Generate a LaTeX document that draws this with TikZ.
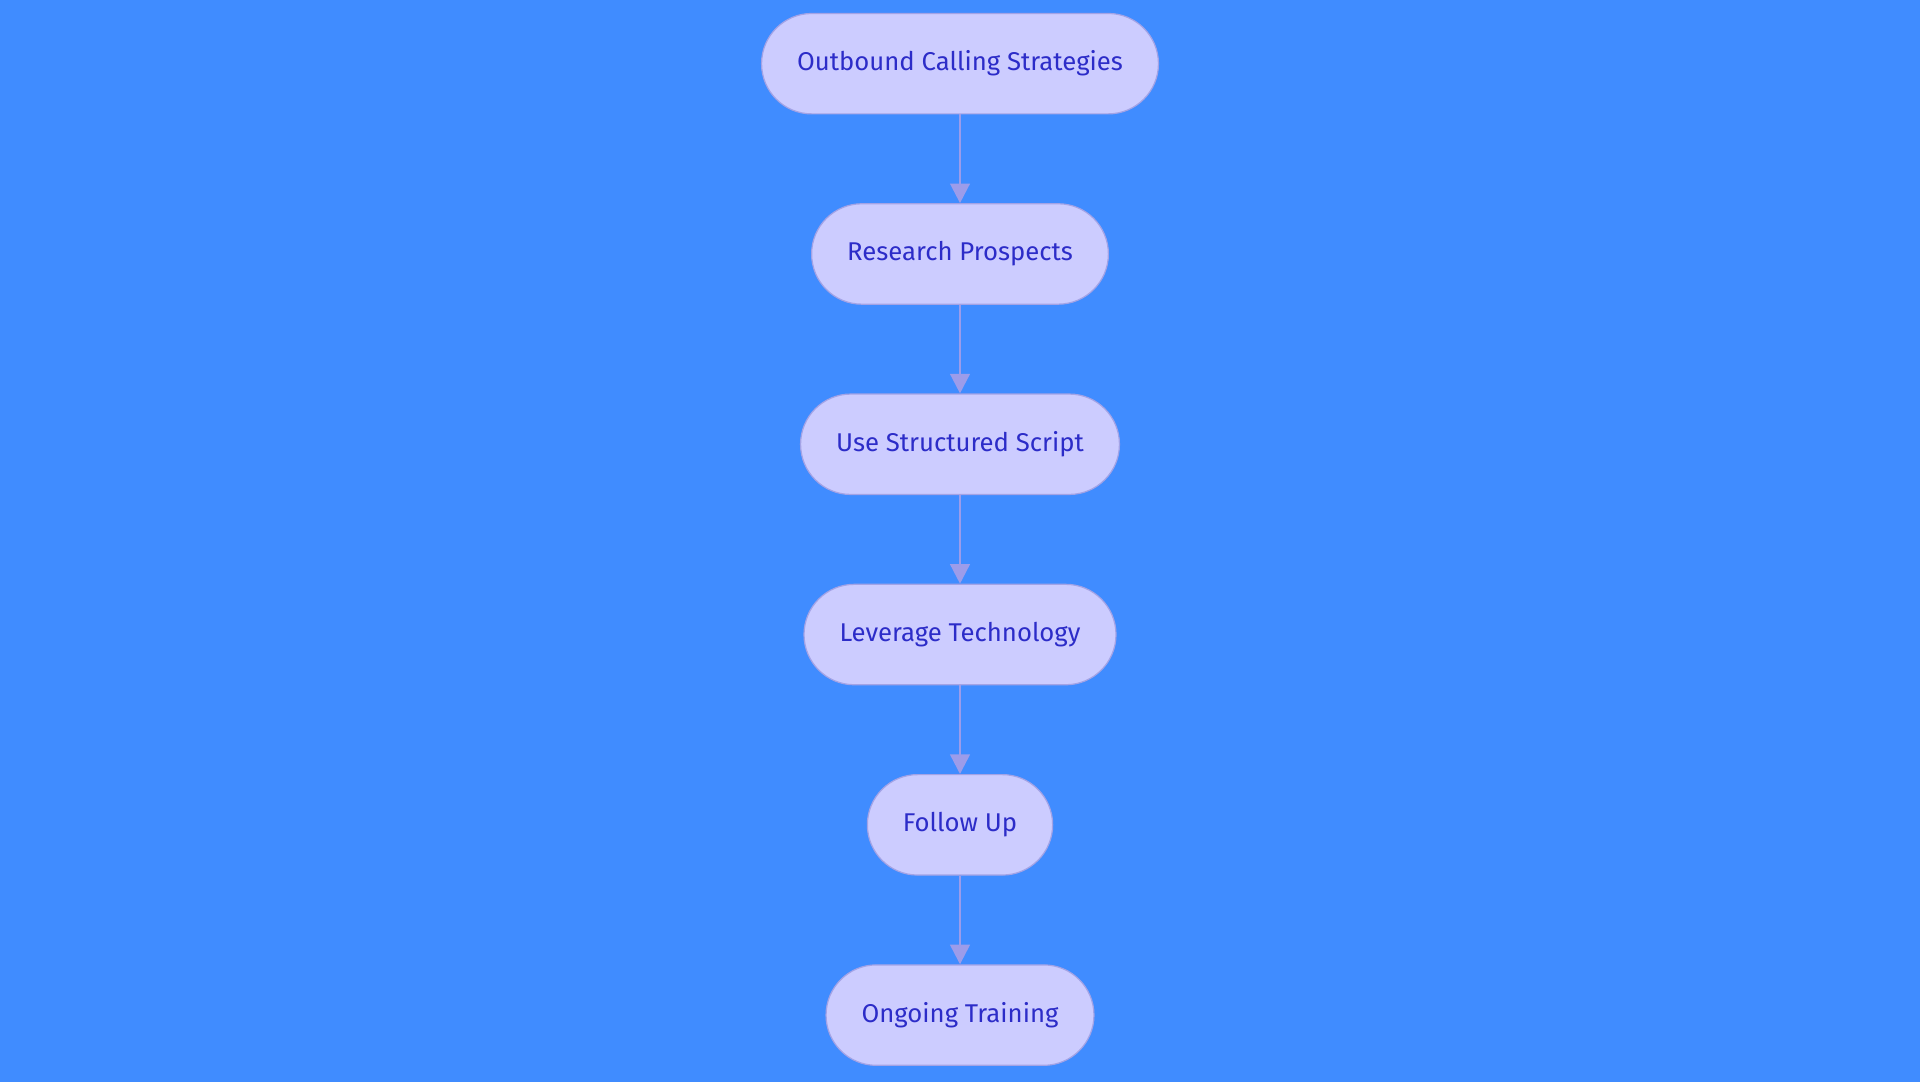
\documentclass[tikz,border=0pt]{standalone}
\usepackage{fontspec}
\setmainfont{Fira Sans}
\usetikzlibrary{positioning,arrows.meta}
\definecolor{bgblue}{HTML}{408CFF}
\definecolor{stepfill}{HTML}{CCCCFF}
\definecolor{stepline}{HTML}{A3A3E6}
\definecolor{steptext}{HTML}{2C2CC8}
\definecolor{flowline}{HTML}{9C9CEA}
\tikzset{
  stepnode/.style = {shape=rectangle, rounded corners=41pt,
                 draw=stepline, line width=1pt, fill=stepfill,
                 text=steptext, align=center,
                 minimum height=82pt, inner xsep=29pt,
                 font=\fontsize{21pt}{25pt}\selectfont},
  flow/.style = {draw=flowline, line width=2pt,
                 -{Triangle[length=16pt,width=16pt]}}
}
\begin{document}
\begin{tikzpicture}[node distance=72.4pt]
    \fill[bgblue] (0,0) rectangle (1568pt,-884pt);
    \useasboundingbox (0,0) rectangle (1568pt,-884pt);
    \node [stepnode] (outbound) at (784pt,-52pt) {Outbound Calling Strategies};
    \node [stepnode, below=of outbound] (research) {Research Prospects};
    \node [stepnode, below=of research] (script) {Use Structured Script};
    \node [stepnode, below=of script] (technology) {Leverage Technology};
    \node [stepnode, below=of technology] (followup) {Follow Up};
    \node [stepnode, below=of followup] (training) {Ongoing Training};
    \draw [flow] (outbound) -- (research);
    \draw [flow] (research) -- (script);
    \draw [flow] (script) -- (technology);
    \draw [flow] (technology) -- (followup);
    \draw [flow] (followup) -- (training);
\end{tikzpicture}
\end{document}
